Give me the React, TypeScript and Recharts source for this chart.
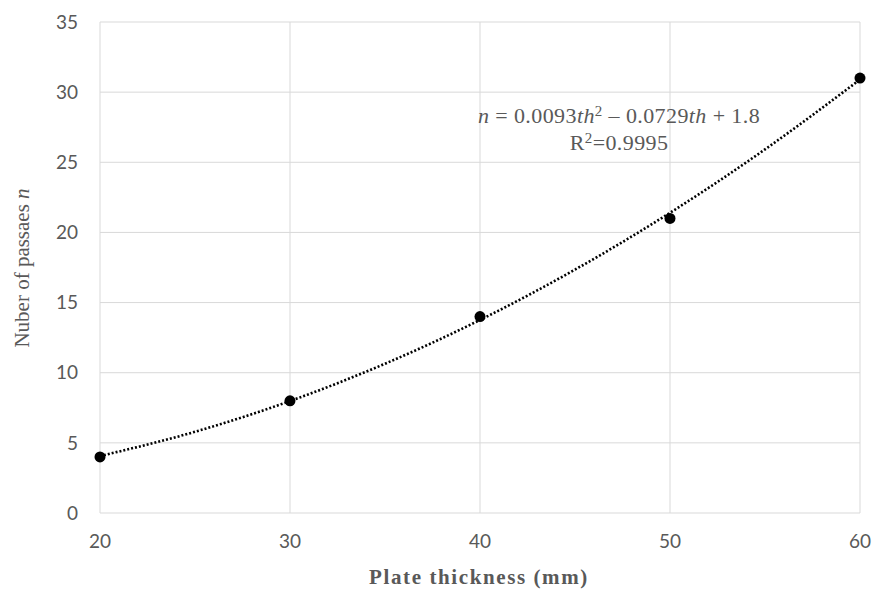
import React from "react";
import { ComposedChart, Line, Scatter, XAxis, YAxis, CartesianGrid } from "recharts";

const thickness = [20, 30, 40, 50, 60];
const passes = [4, 8, 14, 21, 31];
const trendX = [20, 25, 30, 35, 40, 45, 50, 55, 60];
const trendY = [4.06, 5.79, 7.98, 10.64, 13.76, 17.35, 21.4, 25.92, 30.9];
const xTicks = [20, 30, 40, 50, 60];
const yTicks = [0, 5, 10, 15, 20, 25, 30, 35];

const points = thickness.map((x, i) => ({ x, y: passes[i] }));
const trend = trendX.map((x, i) => ({ x, y: trendY[i] }));

const FONT = "'Liberation Serif', serif";
const TICK_FONT = "Lato, 'Liberation Sans', sans-serif";
const GRAY = "#595959";

export default function App() {
  return (
    <div style={{ position: "absolute", left: 0, top: 0, width: 874, height: 593, background: "#fff" }}>
      <ComposedChart width={874} height={593} margin={{ top: 22, right: 14, bottom: 0, left: 0 }}>
        <CartesianGrid stroke="#d9d9d9" strokeWidth={1} />
        <XAxis
          type="number"
          dataKey="x"
          domain={[20, 60]}
          ticks={xTicks}
          height={80}
          axisLine={false}
          tickLine={false}
          tickSize={0}
          tickMargin={22}
          tick={{ fill: GRAY, fontSize: 19, fontFamily: TICK_FONT }}
          allowDuplicatedCategory={false}
        />
        <YAxis
          type="number"
          dataKey="y"
          domain={[0, 35]}
          ticks={yTicks}
          width={100}
          axisLine={false}
          tickLine={false}
          tickSize={0}
          tickMargin={22}
          tick={{ fill: GRAY, fontSize: 19, fontFamily: TICK_FONT }}
        />
        <Line
          data={trend}
          dataKey="y"
          type="monotone"
          stroke="#000"
          strokeWidth={2.6}
          strokeDasharray="2 2"
          dot={false}
          activeDot={false}
          isAnimationActive={false}
        />
        <Scatter
          data={points}
          dataKey="y"
          fill="#000"
          shape={(p: any) => <circle cx={p.cx} cy={p.cy} r={5.5} fill="#000" />}
          isAnimationActive={false}
        />
      </ComposedChart>
      <svg width={874} height={593} style={{ position: "absolute", left: 0, top: 0, pointerEvents: "none" }}>
        <text x={619} y={123} textAnchor="middle" fill={GRAY} fontFamily={FONT} fontSize={22} letterSpacing={0.4}>
          <tspan fontStyle="italic">n</tspan> = 0.0093<tspan fontStyle="italic">th</tspan>
          <tspan fontSize={15} dy={-7}>2</tspan>
          <tspan dy={7}> – 0.0729</tspan><tspan fontStyle="italic">th</tspan> + 1.8
        </text>
        <text x={619} y={150} textAnchor="middle" fill={GRAY} fontFamily={FONT} fontSize={22} letterSpacing={0.4}>
          R<tspan fontSize={15} dy={-7}>2</tspan><tspan dy={7}>=0.9995</tspan>
        </text>
        <text
          x={0}
          y={0}
          transform="translate(29 268) rotate(-90)"
          textAnchor="middle"
          fill={GRAY}
          fontFamily={FONT}
          fontSize={21}
        >
          Nuber of passaes <tspan fontStyle="italic">n</tspan>
        </text>
        <text x={479} y={584} textAnchor="middle" fill={GRAY} fontFamily={FONT} fontSize={21} fontWeight="bold" letterSpacing={1.6}>
          Plate thickness (mm)
        </text>
      </svg>
    </div>
  );
}
